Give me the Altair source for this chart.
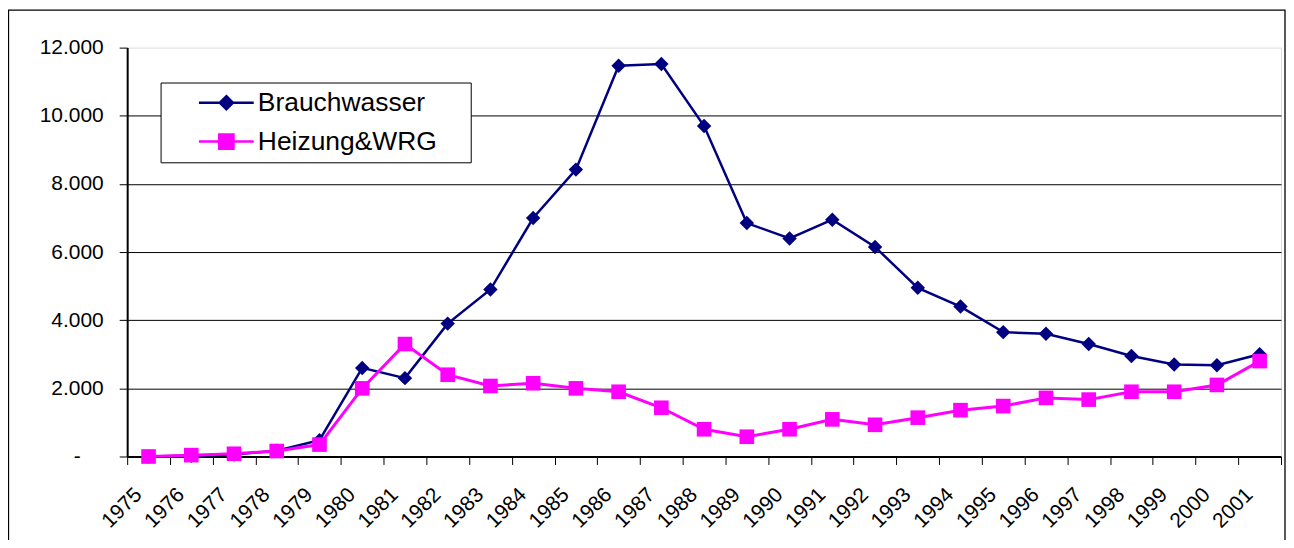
import altair as alt
import pandas as pd

years = list(range(1975, 2002))
brauchwasser = [0, 20, 60, 170, 480, 2600, 2300, 3900, 4900, 7000, 8420, 11470, 11520, 9700,
                6850, 6400, 6950, 6150, 4950, 4400, 3650, 3600, 3300, 2950, 2700, 2680, 3000]
heizung = [0, 40, 80, 160, 350, 2000, 3300, 2400, 2070, 2150, 2000, 1900, 1430, 800,
           580, 800, 1090, 930, 1140, 1360, 1480, 1720, 1670, 1900, 1900, 2100, 2800]
series_names = ["Brauchwasser", "Heizung&WRG"]
series_colors = ["#000080", "#FF00FF"]
y_ticks = [0, 2000, 4000, 6000, 8000, 10000, 12000]
x_ticks = [y - 0.5 for y in years] + [years[-1] + 0.5]

rows = []
for yr, a, b in zip(years, brauchwasser, heizung):
    rows.append({"year": yr, "value": a, "series": series_names[0]})
    rows.append({"year": yr, "value": b, "series": series_names[1]})
df = pd.DataFrame(rows)

FONT = "Liberation Sans"
NB = "\u00a0"
ZW = "\u200b"

x_enc = alt.X(
    "year:Q",
    scale=alt.Scale(domain=[years[0] - 0.5, years[-1] + 0.5], nice=False, zero=False),
    axis=alt.Axis(
        values=x_ticks, title=None, grid=False,
        labelExpr="datum.value < 2001 ? '' + (datum.value + 0.5) : ''",
        labelAngle=-45, labelAlign="right", labelBaseline="middle",
        labelOffset=11, labelPadding=27, tickSize=8, tickColor="black",
        domainColor="black", domainWidth=2, labelFontSize=21, labelFont=FONT,
        labelColor="black", labelOverlap=False,
    ),
)
y_enc = alt.Y(
    "value:Q",
    scale=alt.Scale(domain=[0, 12000], nice=False),
    axis=alt.Axis(
        values=y_ticks, title=None, grid=True, gridColor="black", gridWidth=1,
        gridOpacity={"condition": {"test": "datum.value == 0 || datum.value >= 12000", "value": 0}, "value": 1},
        labelExpr="datum.value == 0 ? '-' : replace(format(datum.value, ',.0f'), ',', '.')",
        labelPadding={"condition": {"test": "datum.value == 0", "value": 39}, "value": 16},
        tickSize=8, tickColor="black", domainColor="black", domainWidth=2,
        labelFontSize=21, labelFont=FONT, labelColor="black",
    ),
)

base = alt.Chart(df)

line_b = base.transform_filter(alt.datum.series == series_names[0]).mark_line(
    color=series_colors[0], strokeWidth=2.5).encode(x=x_enc, y=y_enc)
pts_b = base.transform_filter(alt.datum.series == series_names[0]).mark_point(
    shape="diamond", filled=True, size=210, opacity=1, color=series_colors[0]).encode(x=x_enc, y=y_enc)
line_h = base.transform_filter(alt.datum.series == series_names[1]).mark_line(
    color=series_colors[1], strokeWidth=3).encode(x=x_enc, y=y_enc)
pts_h = base.transform_filter(alt.datum.series == series_names[1]).mark_point(
    shape="square", filled=True, size=215, opacity=1, color=series_colors[1]).encode(x=x_enc, y=y_enc)

# legend symbols: line + marker, shifted to the right of the nominal symbol
path_b = "M2.6,0H10.45M6.53,-0.94L7.47,0L6.53,0.94L5.59,0Z"
path_h = "M2.6,0H10.45M5.51,-1.02H7.55V1.02H5.51Z"

leg = alt.Legend(
    title=None, orient="none", legendX=33.5, legendY=35,
    padding=7, fillColor="white", strokeColor="black",
    symbolSize=196, symbolStrokeWidth=2.5, symbolOpacity=1,
    labelFontSize=26.5, labelFont=FONT, labelColor="black", labelOffset=64,
    rowPadding=12, labelLimit=400,
    labelExpr="datum.label + '" + NB * 3 + "\u2006" + ZW + "'",
)
legend_layer = base.mark_point(filled=True, opacity=0).encode(
    x=x_enc, y=y_enc,
    fill=alt.Fill("series:N", scale=alt.Scale(domain=series_names, range=series_colors), legend=leg),
    stroke=alt.Stroke("series:N", scale=alt.Scale(domain=series_names, range=series_colors), legend=leg),
    shape=alt.Shape("series:N", scale=alt.Scale(domain=series_names, range=[path_b, path_h]), legend=leg),
)

frame = alt.Chart(pd.DataFrame({"k": [0]})).mark_rect(
    fill=None, stroke="black", strokeWidth=1.3).encode(
    x=alt.value(-119), x2=alt.value(1161), y=alt.value(-37.5), y2=alt.value(520))

chart = alt.layer(frame, line_b, pts_b, line_h, pts_h, legend_layer).properties(
    width=1157, height=410,
    autosize=alt.AutoSizeParams(type="none"),
    padding={"left": 119.5, "top": 39, "right": 5, "bottom": 83},
).configure_view(stroke="#808080", strokeWidth=2).configure(font=FONT)

chart.save("out.html", embed_options={"renderer": "svg", "actions": False})
